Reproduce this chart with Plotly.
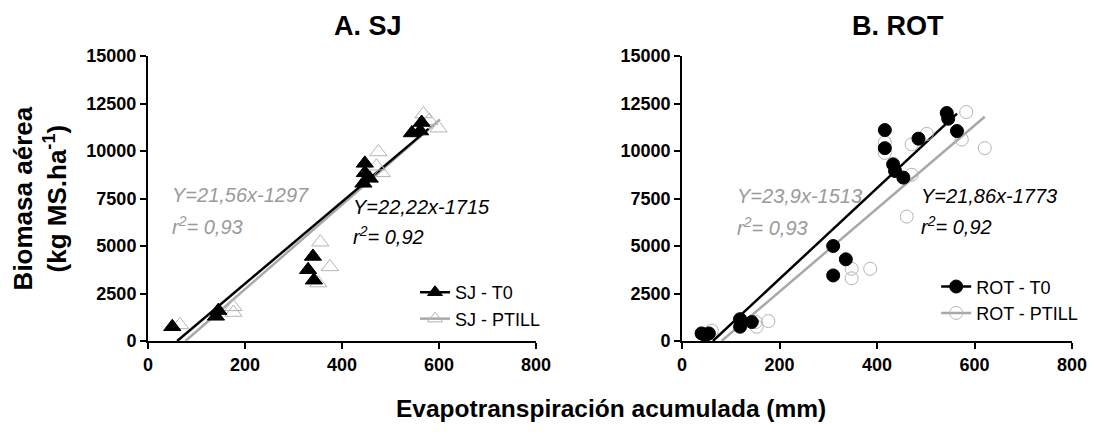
import plotly.graph_objects as go

# ---------------- data ----------------
sj_t0_x = [50, 140, 145, 330, 340, 342, 444, 447, 447, 457, 544, 561, 564]
sj_t0_y = [750, 1300, 1600, 3750, 4450, 3200, 8300, 8850, 9350, 8560, 10950, 11050, 11500]

sj_pt_x = [66, 176, 176, 351, 355, 375, 471, 475, 482, 568, 580, 599]
sj_pt_y = [850, 1500, 1800, 3050, 5200, 3900, 9200, 9950, 8850, 11950, 11600, 11200]

rot_t0_x = [40, 48, 55, 119, 119, 143, 310, 310, 336, 416, 416, 433, 437, 454, 485, 543, 546, 564]
rot_t0_y = [400, 300, 400, 1150, 750, 1000, 5000, 3450, 4300, 11100, 10150, 9300, 8950, 8600, 10650, 12000, 11700, 11050]

rot_pt_x = [45, 61, 151, 153, 177, 348, 348, 386, 416, 416, 461, 471, 471, 502, 574, 583, 621]
rot_pt_y = [300, 550, 1000, 750, 1050, 3800, 3300, 3800, 10450, 9900, 6550, 10350, 8750, 10900, 10600, 12050, 10150]

# regression lines as drawn: slope, intercept, x-range
sj_t0_fit = (21.56, -1297, 60.2, 578)
sj_pt_fit = (22.22, -1715, 77.2, 602)
rot_t0_fit = (23.9, -1513, 63.3, 564)
rot_pt_fit = (21.86, -1773, 81.1, 621)

x_ticks = [0, 200, 400, 600, 800]
y_ticks = [0, 2500, 5000, 7500, 10000, 12500, 15000]
y_tick_labels = ["0", "2500", "5000", "7500", "10000", "12500", "15000"]

BLACK = "#000000"
GRAY = "#a8a8a8"
GRAYMK = "#b4b4b4"
GRAYTXT = "#9a9a9a"
FONT = "Liberation Sans, Arial, sans-serif"

fig = go.Figure()


def fit_line(fit, color, xa, ya):
    a, b, x0, x1 = fit
    xs = [x0, x1]
    ys = [a * v + b for v in xs]
    fig.add_trace(go.Scatter(x=xs, y=ys, mode="lines", line=dict(color=color, width=2.5),
                             xaxis=xa, yaxis=ya, showlegend=False, hoverinfo="skip"))


def pts(x, y, symbol, color, size, xa, ya, lw=1):
    fig.add_trace(go.Scatter(x=x, y=y, mode="markers",
                             marker=dict(symbol=symbol, color=color, size=size, line=dict(color=color, width=lw)),
                             xaxis=xa, yaxis=ya, showlegend=False, cliponaxis=False))


def legend_item(name, symbol, mcolor, lcolor, size, legend):
    fig.add_trace(go.Scatter(x=[None], y=[None], mode="lines+markers", name=name,
                             marker=dict(symbol=symbol, color=mcolor, size=size, line=dict(color=mcolor, width=1)),
                             line=dict(color=lcolor, width=2.5), legend=legend, xaxis="x", yaxis="y"))


# left panel
fit_line(sj_pt_fit, GRAY, "x", "y")
fit_line(sj_t0_fit, BLACK, "x", "y")
pts(sj_pt_x, sj_pt_y, "triangle-up-open", GRAYMK, 15, "x", "y")
pts(sj_t0_x, sj_t0_y, "triangle-up", BLACK, 15, "x", "y")
legend_item("SJ - T0", "triangle-up", BLACK, BLACK, 13, "legend")
legend_item("SJ - PTILL", "triangle-up-open", GRAYMK, GRAY, 13, "legend")

# right panel
fit_line(rot_pt_fit, GRAY, "x2", "y2")
fit_line(rot_t0_fit, BLACK, "x2", "y2")
pts(rot_pt_x, rot_pt_y, "circle-open", GRAYMK, 13, "x2", "y2")
pts(rot_t0_x, rot_t0_y, "circle", BLACK, 13, "x2", "y2")
legend_item("ROT - T0", "circle", BLACK, BLACK, 13, "legend2")
legend_item("ROT - PTILL", "circle-open", GRAYMK, GRAY, 13, "legend2")

axis_common = dict(showline=True, linecolor="black", linewidth=2, ticks="outside", ticklen=6,
                   tickwidth=2, tickcolor="black", showgrid=False, zeroline=False,
                   tickfont=dict(family=FONT, size=18, color="black", weight="bold"))

fig.update_layout(
    width=1101, height=448,
    margin=dict(l=140, r=37, t=48, b=115),
    plot_bgcolor="white", paper_bgcolor="white",
    xaxis=dict(domain=[0, 0.42], range=[0, 800], tickvals=x_ticks, anchor="y", **axis_common),
    yaxis=dict(domain=[0, 1], range=[0, 15000], tickvals=y_ticks, ticktext=y_tick_labels, anchor="x", **axis_common),
    xaxis2=dict(domain=[0.578, 1], range=[0, 800], tickvals=x_ticks, anchor="y2", **axis_common),
    yaxis2=dict(domain=[0, 1], range=[0, 15000], tickvals=y_ticks, ticktext=y_tick_labels, anchor="x2", **axis_common),
    legend=dict(x=0.289, y=0.235, xanchor="left", yanchor="top", bgcolor="rgba(0,0,0,0)",
                font=dict(family=FONT, size=18, color="black"), itemwidth=30),
    legend2=dict(x=0.853, y=0.255, xanchor="left", yanchor="top", bgcolor="rgba(0,0,0,0)",
                 font=dict(family=FONT, size=18, color="black"), itemwidth=30, tracegroupgap=0),
    showlegend=True,
)

ann = []
title_font = dict(family=FONT, size=27, color="black", weight="bold")
ann.append(dict(text="A. SJ", x=0.238, y=1, xref="paper", yref="paper", yshift=30, showarrow=False,
                xanchor="center", yanchor="middle", font=title_font))
ann.append(dict(text="B. ROT", x=0.812, y=1, xref="paper", yref="paper", yshift=30, showarrow=False,
                xanchor="center", yanchor="middle", font=title_font))
ann.append(dict(text="Biomasa aérea<br>(kg MS.ha<sup>-1</sup>)", x=-0.117, y=0.5, xref="paper", yref="paper",
                showarrow=False, textangle=-90, xanchor="center", yanchor="middle",
                font=dict(family=FONT, size=26, color="black", weight="bold")))
ann.append(dict(text="Evapotranspiración acumulada (mm)", x=0.501, y=0, xref="paper", yref="paper",
                yshift=-67, showarrow=False, xanchor="center", yanchor="middle",
                font=dict(family=FONT, size=24.5, color="black", weight="bold")))

ital = dict(family=FONT, size=20, style="italic")
# equations left
ann.append(dict(text="Y=21,56x-1297", x=45, y=7700, xref="x", yref="y", showarrow=False, xanchor="left",
                font=dict(color=GRAYTXT, **ital)))
ann.append(dict(text="r<sup>2</sup>= 0,93", x=45, y=6100, xref="x", yref="y", showarrow=False, xanchor="left",
                font=dict(color=GRAYTXT, **ital)))
ann.append(dict(text="Y=22,22x-1715", x=418, y=7050, xref="x", yref="y", showarrow=False, xanchor="left",
                font=dict(color="black", **ital)))
ann.append(dict(text="r<sup>2</sup>= 0,92", x=418, y=5550, xref="x", yref="y", showarrow=False, xanchor="left",
                font=dict(color="black", **ital)))
# equations right
ann.append(dict(text="Y=23,9x-1513", x=108, y=7650, xref="x2", yref="y2", showarrow=False, xanchor="left",
                font=dict(color=GRAYTXT, **ital)))
ann.append(dict(text="r<sup>2</sup>= 0,93", x=108, y=6050, xref="x2", yref="y2", showarrow=False, xanchor="left",
                font=dict(color=GRAYTXT, **ital)))
ann.append(dict(text="Y=21,86x-1773", x=486, y=7650, xref="x2", yref="y2", showarrow=False, xanchor="left",
                font=dict(color="black", **ital)))
ann.append(dict(text="r<sup>2</sup>= 0,92", x=486, y=6100, xref="x2", yref="y2", showarrow=False, xanchor="left",
                font=dict(color="black", **ital)))

fig.update_layout(annotations=ann)
fig.write_html("out.html")
